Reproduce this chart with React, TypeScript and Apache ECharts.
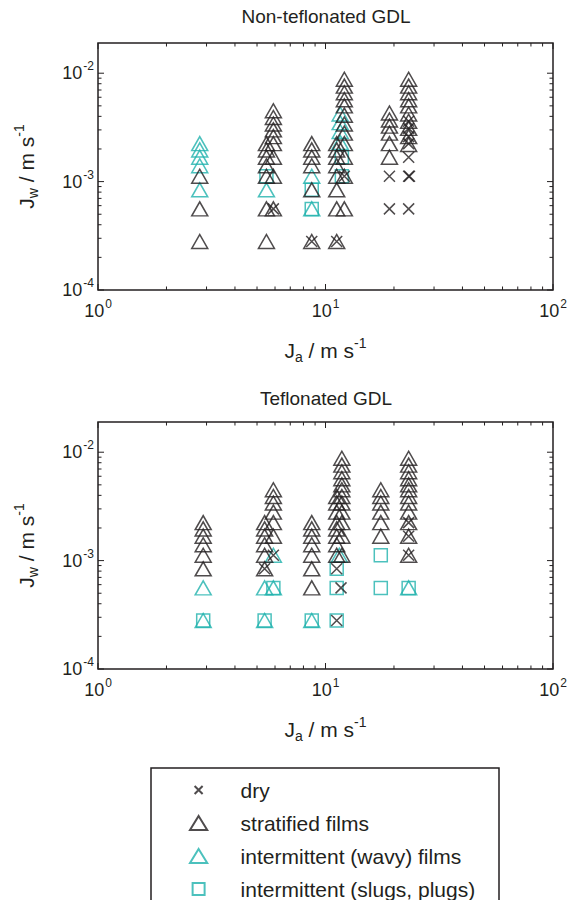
import React, { useEffect, useRef } from 'react';
import * as echarts from 'echarts';

const FONT = '"Liberation Sans", Arial, Helvetica, sans-serif';
const INK = '#231f20';
const TEAL = '#1fb1ad';

const titles = ['Non-teflonated GDL', 'Teflonated GDL'];
const legendNames = ['dry', 'stratified films', 'intermittent (wavy) films', 'intermittent (slugs, plugs)'];

const X_MIN = 1;
const X_MAX = 100;
const Y_MIN = 0.0001;
const Y_MAX = 0.019;

const xTickValues = [1, 2, 3, 4, 5, 6, 7, 8, 9, 10, 20, 30, 40, 50, 60, 70, 80, 90, 100];
const yTickValues = [
  0.0001, 0.0002, 0.0003, 0.0004, 0.0005, 0.0006, 0.0007, 0.0008, 0.0009,
  0.001, 0.002, 0.003, 0.004, 0.005, 0.006, 0.007, 0.008, 0.009, 0.01,
];

// ---- Non-teflonated GDL (top) : [Ja, Jw] ----
const topDry = [
  [8.7, 0.00028], [11.2, 0.00028], [5.9, 0.00056], [12.1, 0.00112],
  [19.1, 0.00056], [19.1, 0.00112],
  [23.2, 0.00056], [23.2, 0.00112], [23.4, 0.00112], [23.2, 0.00168],
  [23.2, 0.00224], [23.2, 0.0026], [23.2, 0.0031], [23.2, 0.0036],
];
const topStratified = [
  [2.8, 0.00028], [2.8, 0.00056], [2.8, 0.00112],
  [5.5, 0.00028], [5.5, 0.00056], [5.5, 0.00112], [5.5, 0.0014], [5.5, 0.00168], [5.5, 0.00196], [5.5, 0.00224],
  [5.9, 0.00056], [5.9, 0.00112], [5.9, 0.00168], [5.9, 0.00224], [5.9, 0.0026], [5.9, 0.003], [5.9, 0.0034], [5.9, 0.0039], [5.9, 0.0045],
  [8.7, 0.00028], [8.7, 0.00084], [8.7, 0.0014], [8.7, 0.00168], [8.7, 0.00196], [8.7, 0.00224],
  [11.2, 0.00028], [11.2, 0.00056], [11.2, 0.00084], [11.2, 0.00112], [11.2, 0.0014], [11.2, 0.00168], [11.2, 0.00196], [11.2, 0.00224],
  [12.1, 0.00056], [12.1, 0.00112], [12.1, 0.00168], [12.1, 0.00224], [12.1, 0.0028], [12.1, 0.0034], [12.1, 0.0041], [12.1, 0.005], [12.1, 0.0057], [12.1, 0.0066], [12.1, 0.0076], [12.1, 0.0088],
  [19.1, 0.00168], [19.1, 0.00224], [19.1, 0.0028], [19.1, 0.00325], [19.1, 0.0037], [19.1, 0.0043],
  [23.2, 0.0022], [23.2, 0.0026], [23.2, 0.0031], [23.2, 0.0036], [23.2, 0.0042], [23.2, 0.005], [23.2, 0.0057], [23.2, 0.0066], [23.2, 0.0076], [23.2, 0.0088],
];
const topWavy = [
  [2.8, 0.00084], [2.8, 0.0014], [2.8, 0.00168], [2.8, 0.00196], [2.8, 0.00224],
  [5.5, 0.00084],
  [8.7, 0.00056], [8.7, 0.00112],
  [11.6, 0.0023], [11.6, 0.0029], [11.6, 0.0035], [11.6, 0.0042],
];
const topSlugs = [
  [5.5, 0.00112],
  [8.7, 0.00056], [8.7, 0.00084],
  [11.8, 0.00112], [11.8, 0.00168],
];

// ---- Teflonated GDL (bottom) : [Ja, Jw] ----
const botDry = [
  [5.4, 0.00084], [5.9, 0.00112],
  [11.2, 0.00028], [11.7, 0.00056], [11.2, 0.00084],
  [23.2, 0.00112], [23.2, 0.00168], [23.2, 0.00224],
];
const botStratified = [
  [2.9, 0.00084], [2.9, 0.00112], [2.9, 0.0014], [2.9, 0.00168], [2.9, 0.00196], [2.9, 0.00224],
  [5.4, 0.00084], [5.4, 0.00112], [5.4, 0.0014], [5.4, 0.00168], [5.4, 0.00196], [5.4, 0.00224],
  [5.9, 0.00168], [5.9, 0.00224], [5.9, 0.0028], [5.9, 0.0034], [5.9, 0.0039], [5.9, 0.0045],
  [8.7, 0.00056], [8.7, 0.00084], [8.7, 0.00112], [8.7, 0.0014], [8.7, 0.00168], [8.7, 0.00196], [8.7, 0.00224],
  [11.2, 0.00112], [11.2, 0.0014], [11.2, 0.00168], [11.2, 0.00196], [11.2, 0.00224], [11.2, 0.0028], [11.2, 0.0034], [11.2, 0.0039],
  [11.8, 0.00112], [11.8, 0.00168], [11.8, 0.00224], [11.8, 0.0028], [11.8, 0.0034], [11.8, 0.0039], [11.8, 0.0045], [11.8, 0.005], [11.8, 0.0057], [11.8, 0.0066], [11.8, 0.0076], [11.8, 0.0088],
  [17.5, 0.00168], [17.5, 0.00224], [17.5, 0.0028], [17.5, 0.0034], [17.5, 0.0039], [17.5, 0.0045],
  [23.2, 0.00112], [23.2, 0.00168], [23.2, 0.00224], [23.2, 0.0028], [23.2, 0.0034], [23.2, 0.0039], [23.2, 0.0045], [23.2, 0.005], [23.2, 0.0057], [23.2, 0.0066], [23.2, 0.0076], [23.2, 0.0088],
];
const botWavy = [
  [2.9, 0.00028], [2.9, 0.00056],
  [5.4, 0.00028], [5.4, 0.00056],
  [5.9, 0.00056], [5.9, 0.00112],
  [8.7, 0.00028],
  [11.5, 0.00112],
  [23.2, 0.00056],
];
const botSlugs = [
  [2.9, 0.00028], [5.4, 0.00028], [5.9, 0.00056], [8.7, 0.00028],
  [11.2, 0.00028], [11.2, 0.00056], [11.2, 0.00084],
  [17.5, 0.00056], [17.5, 0.00112],
  [23.2, 0.00056],
];

const SYM_DRY = 'path://M0,0L10,10M10,0L0,10';
const isMajor = (v: number) => Math.abs(Math.log10(v) - Math.round(Math.log10(v))) < 1e-9;

const expLabel = (v: number) => {
  const l = Math.log10(v);
  const e = Math.round(l);
  if (Math.abs(l - e) > 1e-6) return '';
  return `{b|10}{s|${e}}`;
};

const labelRich = {
  b: { fontSize: 18, color: INK, fontFamily: FONT },
  s: { fontSize: 12, color: INK, fontFamily: FONT, padding: [0, 0, 14, 1] },
};
const nameRich = {
  m: { fontSize: 21, color: INK, fontFamily: FONT },
  sub: { fontSize: 14, color: INK, fontFamily: FONT, padding: [13, 0, 0, 0] },
  sup: { fontSize: 14, color: INK, fontFamily: FONT, padding: [0, 0, 15, 0] },
};

function scatter(name: string, data: number[][], g: number, symbol: string, size: any, color: string) {
  return {
    type: 'scatter',
    name,
    xAxisIndex: g,
    yAxisIndex: g,
    data,
    symbol,
    symbolSize: size,
    itemStyle: { color: 'rgba(0,0,0,0)', borderColor: color, borderWidth: 1.5 },
    emphasis: { disabled: true },
    silent: true,
    z: 3,
  };
}

function tickSeries(g: number) {
  const line = (x1: number, y1: number, x2: number, y2: number) => ({
    type: 'line',
    shape: { x1, y1, x2, y2 },
    style: { stroke: INK, lineWidth: 1 },
  });
  return [
    {
      type: 'custom',
      xAxisIndex: g,
      yAxisIndex: g,
      silent: true,
      clip: false,
      z: 5,
      data: xTickValues.map((v) => [v, Y_MIN, isMajor(v) ? 1 : 0]),
      renderItem: (_p: any, api: any) => {
        const v = api.value(0);
        const len = api.value(2) === 1 ? 6 : 3.5;
        const b = api.coord([v, Y_MIN]);
        const t = api.coord([v, Y_MAX]);
        return { type: 'group', children: [line(b[0], b[1], b[0], b[1] - len), line(t[0], t[1], t[0], t[1] + len)] };
      },
    },
    {
      type: 'custom',
      xAxisIndex: g,
      yAxisIndex: g,
      silent: true,
      clip: false,
      z: 5,
      data: yTickValues.map((v) => [X_MIN, v, isMajor(v) ? 1 : 0]),
      renderItem: (_p: any, api: any) => {
        const v = api.value(1);
        const len = api.value(2) === 1 ? 6 : 3.5;
        const l = api.coord([X_MIN, v]);
        const r = api.coord([X_MAX, v]);
        return { type: 'group', children: [line(l[0], l[1], l[0] + len, l[1]), line(r[0], r[1], r[0] - len, r[1])] };
      },
    },
  ];
}

const gridTops = [43, 422];

function buildOption() {
  const xAxis = [0, 1].map((i) => ({
    type: 'log',
    logBase: 10,
    gridIndex: i,
    min: X_MIN,
    max: X_MAX,
    axisLine: { show: false },
    axisTick: { show: false },
    splitLine: { show: false },
    minorTick: { show: false },
    axisLabel: { margin: 8, formatter: expLabel, rich: labelRich, showMinLabel: true, showMaxLabel: true },
    name: '{m|J}{sub|a}{m| / m s}{sup|-1}',
    nameLocation: 'middle',
    nameGap: 46,
    nameTextStyle: { rich: nameRich },
  }));
  const yAxis = [0, 1].map((i) => ({
    type: 'log',
    logBase: 10,
    gridIndex: i,
    min: Y_MIN,
    max: Y_MAX,
    axisLine: { show: false },
    axisTick: { show: false },
    splitLine: { show: false },
    minorTick: { show: false },
    axisLabel: { margin: 4, formatter: expLabel, rich: labelRich, showMaxLabel: false },
    name: '{m|J}{sub|w}{m| / m s}{sup|-1}',
    nameLocation: 'middle',
    nameRotate: 90,
    nameGap: 57,
    nameTextStyle: { rich: nameRich },
  }));

  const groups = [
    [topDry, topStratified, topWavy, topSlugs],
    [botDry, botStratified, botWavy, botSlugs],
  ];
  const series: any[] = [];
  groups.forEach((g, i) => {
    series.push(scatter(legendNames[2], g[2], i, 'triangle', [16, 14], TEAL));
    series.push(scatter(legendNames[3], g[3], i, 'rect', 13, TEAL));
    series.push(scatter(legendNames[1], g[1], i, 'triangle', [16, 14], INK));
    series.push(scatter(legendNames[0], g[0], i, SYM_DRY, 11, INK));
    series.push(...tickSeries(i));
  });

  return {
    animation: false,
    textStyle: { fontFamily: FONT },
    title: titles.map((t, i) => ({
      text: t,
      left: 326,
      top: i === 0 ? 7 : 389,
      textAlign: 'center',
      padding: 0,
      textStyle: { fontSize: 19, fontWeight: 'normal', color: INK, fontFamily: FONT },
    })),
    legend: {
      orient: 'vertical',
      left: 189,
      top: 779,
      padding: 0,
      itemWidth: 74,
      itemHeight: 14,
      itemGap: 11,
      symbolKeepAspect: true,
      selectedMode: false,
      textStyle: { fontSize: 21, color: INK, fontFamily: FONT, lineHeight: 22 },
      data: [
        { name: legendNames[0], icon: 'path://M0,0M3,3L11,11M11,3L3,11M14,14' },
        { name: legendNames[1], icon: 'path://M8,0L16,13L0,13Z' },
        { name: legendNames[2], icon: 'path://M8,0L16,13L0,13Z' },
        { name: legendNames[3], icon: 'path://M0,0M1,1L13,1L13,13L1,13ZM14,14' },
      ],
    },
    grid: gridTops.map((top) => ({
      left: 98,
      right: 17,
      top,
      height: 247,
      show: true,
      borderColor: INK,
      borderWidth: 1.5,
      backgroundColor: 'rgba(0,0,0,0)',
    })),
    xAxis,
    yAxis,
    graphic: [
      {
        type: 'rect',
        silent: true,
        shape: { x: 151, y: 768, width: 348, height: 200 },
        style: { fill: 'none', stroke: INK, lineWidth: 1.5 },
      },
    ],
    series,
  };
}

export default function App() {
  const ref = useRef<HTMLDivElement>(null);
  useEffect(() => {
    if (!ref.current) return;
    const chart = echarts.init(ref.current, undefined, { renderer: 'svg' });
    chart.setOption(buildOption() as any);
    return () => chart.dispose();
  }, []);
  return (
    <div
      ref={ref}
      style={{ position: 'absolute', left: 0, top: 0, width: 570, height: 900, overflow: 'hidden', background: '#fff' }}
    />
  );
}
